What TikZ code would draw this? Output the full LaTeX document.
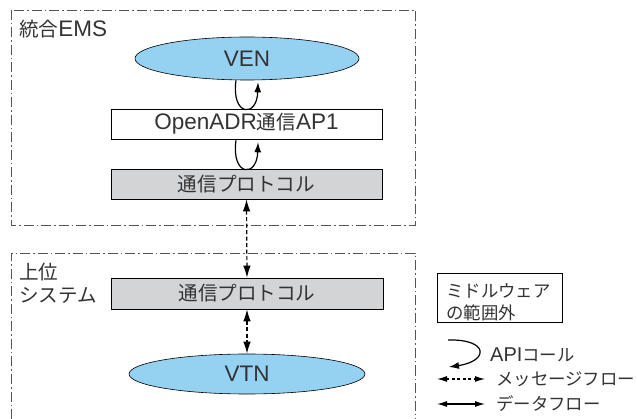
\documentclass[tikz,border=0pt]{standalone}
\usepackage{fontspec}
\setmainfont{Liberation Sans}
\newfontfamily\cjk{Noto Sans CJK JP}[Scale=0.87]
\newcommand\J[1]{{\cjk #1}}
\usetikzlibrary{arrows.meta,calc,shapes.geometric}
\definecolor{ellblue}{HTML}{95D1F0}
\definecolor{protgray}{HTML}{D3D4D6}
\definecolor{framegray}{HTML}{555555}
\definecolor{txt}{HTML}{333333}
\begin{document}
\begin{tikzpicture}[x=1pt,y=-1pt,
  frame/.style={draw=framegray,line width=0.8pt,dash pattern=on 10pt off 3pt on 1.5pt off 3pt},
  lbl/.style={font=\fontsize{22.5}{24}\selectfont,text=txt,inner sep=0pt},
  leg/.style={font=\fontsize{20}{22}\selectfont,text=txt,inner sep=0pt},
  ell/.style={ellipse,draw=black,fill=ellblue,line width=0.6pt,inner sep=0pt,lbl},
  boxw/.style={rectangle,draw=black,fill=white,line width=0.6pt,minimum width=271pt,minimum height=30pt,inner sep=0pt,lbl},
  boxg/.style={boxw,fill=protgray},
  api/.style={line width=1.2pt,-{Latex[length=10pt,width=7pt]}},
  msg/.style={line width=1.2pt,dash pattern=on 4pt off 2.5pt,{Latex[length=12pt,width=7.5pt]}-{Latex[length=12pt,width=7.5pt]}},
  lmsg/.style={line width=1.1pt,dash pattern=on 3pt off 2.5pt,{Latex[length=10pt,width=6pt]}-{Latex[length=10pt,width=6pt]}},
  ldat/.style={line width=1.1pt,{Latex[length=10pt,width=6pt]}-{Latex[length=10pt,width=6pt]}}
]
\useasboundingbox[fill=white] (0,0) rectangle (637,419);
% frames
\draw[frame] (11,10) rectangle (415,225);
\draw[frame] (11,419) -- (11,253) -- (415,253) -- (415,419);
\node[lbl,anchor=west] (ems) at (19,29) {\J{統合}EMS};
\node[lbl,anchor=west] (jou) at (19,272) {\J{上位}};
\node[lbl,anchor=west] (sys) at (19,295) {\J{システム}};
% nodes
\node[ell,minimum width=224pt,minimum height=43pt] (ven) at (247,58.5) {VEN};
\node[boxw] (ap) at (246.5,124) {OpenADR\J{通信}AP1};
\node[boxg] (p1) at (246.5,184) {\J{通信プロトコル}};
\node[boxg,minimum width=272pt,minimum height=31pt] (p2) at (247,293.5) {\J{通信プロトコル}};
\node[ell,minimum width=236pt,minimum height=40pt] (vtn) at (247,374) {VTN};
% API loops
\draw[api] ($(ven.south)+(-11,0)$) .. controls ($(ven.south)+(-16,36)$) and ($(ven.south)+(10,38)$) .. ($(ven.south)+(11,2)$);
\draw[api] ($(ap.south)+(-10.5,1)$) .. controls ($(ap.south)+(-15.5,37)$) and ($(ap.south)+(10.5,39)$) .. ($(ap.south)+(11.5,3)$);
% message flows
\draw[msg] (p1.south) -- (p2.north);
\draw[msg] (p2.south) -- (vtn.north);
% legend
\node[draw=black,line width=0.6pt,anchor=north west,minimum width=125pt,minimum height=49pt,inner sep=0pt] (lbox) at (437,273) {};
\node[leg,anchor=west] (l1) at ($(lbox.north west)+(9,18)$) {\J{ミドルウェア}};
\node[leg,anchor=west] (l2) at ($(lbox.north west)+(9,40)$) {\J{の範囲外}};
\coordinate (la1) at (448,340);
\coordinate (la2) at (449,367);
\draw[api] (la1) .. controls (489,339) and (489,361) .. (la2);
\node[leg,anchor=west] (lapi) at (490,355) {API\J{コール}};
\coordinate (lm1) at (437,379);
\coordinate (lm2) at (485,379);
\draw[lmsg] (lm1) -- (lm2);
\node[leg,anchor=west] (lmsg) at (496,379) {\J{メッセージフロー}};
\coordinate (ld1) at (437,404);
\coordinate (ld2) at (485,404);
\draw[ldat] (ld1) -- (ld2);
\node[leg,anchor=west] (ldat) at (496,404) {\J{データフロー}};
\end{tikzpicture}
\end{document}
